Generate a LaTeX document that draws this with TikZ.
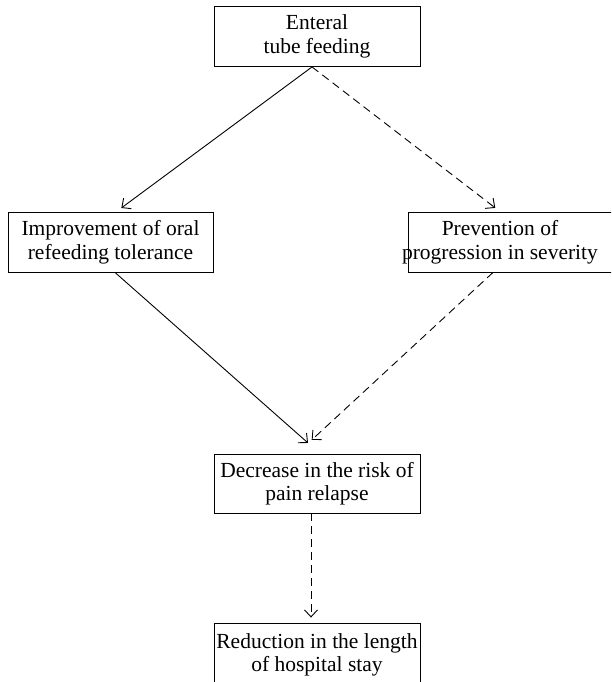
\documentclass[tikz,border=0pt]{standalone}
\usepackage{fontspec}
\setmainfont{Liberation Serif}
\usetikzlibrary{arrows.meta}

\begin{document}
\begin{tikzpicture}[x=1pt,y=-1pt,
        box/.style={draw, line width=0.9pt, align=center, inner sep=0pt,
                    minimum width=206pt, minimum height=60pt,
                    font=\fontsize{21.5}{23.5}\selectfont},
        link/.style={line width=0.9pt, -{Straight Barb[length=7pt,width=13pt]}},
        dashlink/.style={link, dash pattern=on 8pt off 5pt}]

        \def\midx{317}

        \clip (0,0) rectangle (611,682);

        \node [box] (feed) at (\midx,36.5) {Enteral\\tube feeding};
        \node [box, minimum width=205pt] (oral) at (110.5,242) {Improvement of oral\\refeeding tolerance};
        \node [box, minimum width=212pt] (sevbox) at (514,242) {};
        \node [box, draw=none] (sev) at (500,242) {Prevention of\\progression in severity};
        \node [box, minimum height=59pt] (risk) at (\midx,483.5) {Decrease in the risk of\\pain relapse};
        \node [box, minimum height=64pt] (stay) at (\midx,655) {Reduction in the length\\of hospital stay};

        \draw [link, shorten >=6pt] ([xshift=-5pt]feed.south) -- ([xshift=6pt]oral.north);
        \draw [dashlink, shorten >=6pt] ([xshift=-5pt]feed.south) -- (sev |- sevbox.north);
        \draw [link, shorten >=16pt] ([xshift=4.5pt]oral.south) -- ([xshift=3pt]risk.north);
        \draw [dashlink, shorten >=20pt] ([xshift=-21pt]sevbox.south) -- ([xshift=-20pt]risk.north);
        \draw [dashlink, shorten >=5pt] ([xshift=-6pt]risk.south) -- ([xshift=-6pt]stay.north);

      \end{tikzpicture}
\end{document}
